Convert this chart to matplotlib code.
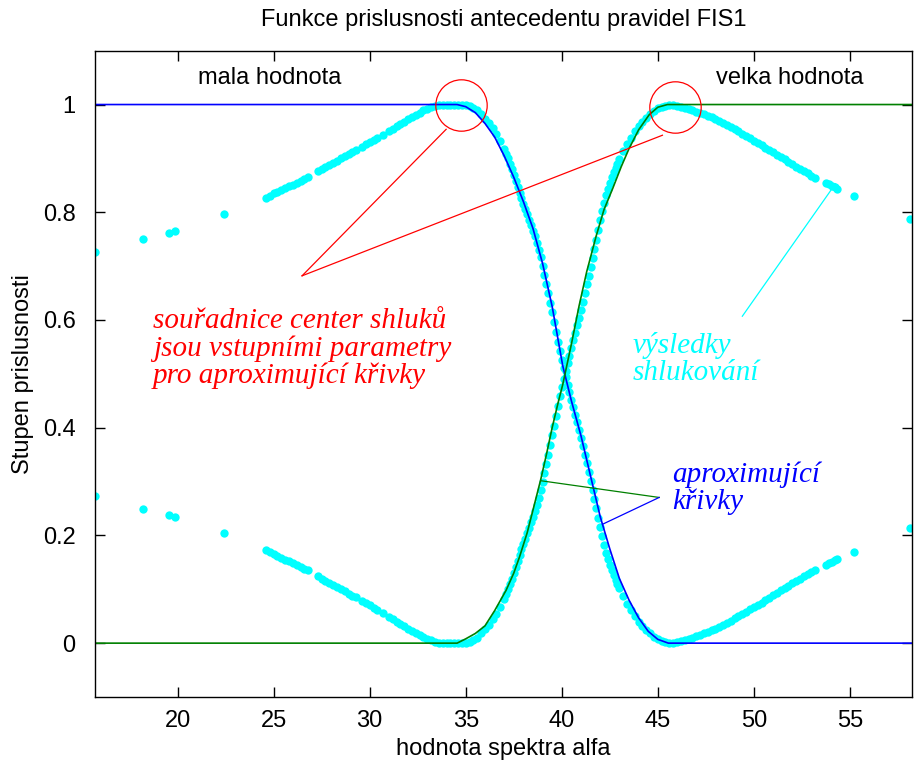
import matplotlib.pyplot as plt

plt.rcParams['font.family'] = ['Liberation Sans', 'DejaVu Sans']

# hodnoty spektra alfa (vstupni data FCM)
alfa = [
    15.70, 18.21, 19.55, 19.86, 22.41,
    24.6, 24.8, 25.0, 25.2, 25.4, 25.6, 25.8, 26.0, 26.2, 26.4, 26.6, 26.8,
    27.3, 27.5, 27.7, 27.9, 28.1, 28.3, 28.5, 28.7, 28.9, 29.1, 29.3,
    29.6, 29.8, 30.0, 30.2, 30.4, 30.7,
    31.0, 31.2, 31.4, 31.6, 31.8, 32.0, 32.2, 32.4, 32.6, 32.8,
    33.0, 33.2, 33.4, 33.6, 33.8, 34.0, 34.2, 34.4, 34.6, 34.8,
    35.0, 35.2, 35.4, 35.6, 35.8, 36.0, 36.2, 36.4, 36.6, 36.8,
    37.0, 37.1, 37.2, 37.3, 37.4, 37.5, 37.6, 37.7, 37.8, 37.9,
    38.0, 38.1, 38.2, 38.3, 38.4, 38.5, 38.6, 38.7, 38.8, 38.9,
    39.0, 39.1, 39.2, 39.3, 39.4, 39.5, 39.6, 39.7, 39.8, 39.9,
    40.0, 40.1, 40.2, 40.3, 40.4, 40.5, 40.6, 40.7, 40.8, 40.9,
    41.0, 41.1, 41.2, 41.3, 41.4, 41.5, 41.6, 41.7, 41.8, 41.9,
    42.0, 42.1, 42.2, 42.3, 42.4, 42.5, 42.6, 42.7, 42.8, 42.9,
    43.0, 43.2, 43.4, 43.6, 43.8, 44.0, 44.2, 44.4, 44.6, 44.8,
    45.0, 45.2, 45.4, 45.6, 45.8,
    46.0, 46.2, 46.4, 46.6, 46.8, 47.0, 47.2, 47.4, 47.6, 47.8,
    48.0, 48.2, 48.4, 48.6, 48.8, 49.0, 49.2, 49.4, 49.6, 49.8,
    50.0, 50.2, 50.4, 50.6, 50.8, 51.0, 51.2, 51.4, 51.6, 51.8,
    52.0, 52.2, 52.4, 52.6, 52.8, 53.0, 53.2,
    53.75, 53.9, 54.05, 54.2, 54.35, 55.2, 58.15,
]

# stupen prislusnosti ke shluku "mala hodnota"
u_mala = [
    0.726, 0.751, 0.762, 0.765, 0.796,
    0.827, 0.831, 0.835, 0.838, 0.842, 0.845, 0.848, 0.851, 0.855, 0.858, 0.862, 0.865,
    0.876, 0.880, 0.884, 0.888, 0.892, 0.896, 0.900, 0.904, 0.908, 0.912, 0.915,
    0.922, 0.926, 0.930, 0.934, 0.938, 0.944,
    0.951, 0.955, 0.960, 0.964, 0.968, 0.973, 0.977, 0.981, 0.985, 0.989,
    0.992, 0.995, 0.997, 0.999, 1.000, 1.000, 1.000, 1.000, 1.000, 1.000,
    1.000, 0.998, 0.994, 0.990, 0.982, 0.974, 0.966, 0.956, 0.945, 0.932,
    0.918, 0.909, 0.900, 0.890, 0.880, 0.869, 0.858, 0.847, 0.836, 0.826,
    0.816, 0.806, 0.796, 0.786, 0.776, 0.766, 0.755, 0.743, 0.730, 0.716,
    0.700, 0.684, 0.667, 0.650, 0.632, 0.614, 0.596, 0.578, 0.560, 0.542,
    0.525, 0.510, 0.495, 0.480, 0.466, 0.452, 0.438, 0.424, 0.410, 0.396,
    0.381, 0.366, 0.350, 0.334, 0.318, 0.301, 0.285, 0.268, 0.251, 0.233,
    0.215, 0.198, 0.182, 0.168, 0.156, 0.145, 0.135, 0.126, 0.118, 0.110,
    0.102, 0.087, 0.073, 0.062, 0.050, 0.040, 0.032, 0.025, 0.018, 0.012,
    0.007, 0.004, 0.002, 0.001, 0.000,
    0.002, 0.004, 0.006, 0.008, 0.010, 0.013, 0.015, 0.018, 0.021, 0.024,
    0.027, 0.030, 0.034, 0.038, 0.042, 0.046, 0.050, 0.054, 0.058, 0.063,
    0.067, 0.071, 0.075, 0.080, 0.084, 0.089, 0.094, 0.098, 0.102, 0.107,
    0.111, 0.116, 0.120, 0.124, 0.128, 0.132, 0.136,
    0.146, 0.148, 0.151, 0.154, 0.157, 0.170, 0.213,
]

# stupen prislusnosti ke shluku "velka hodnota"
u_velka = [
    0.274, 0.249, 0.238, 0.235, 0.204,
    0.173, 0.169, 0.165, 0.162, 0.158, 0.155, 0.152, 0.149, 0.145, 0.142, 0.138, 0.135,
    0.124, 0.120, 0.116, 0.112, 0.108, 0.104, 0.100, 0.096, 0.092, 0.088, 0.085,
    0.078, 0.074, 0.070, 0.066, 0.062, 0.056,
    0.049, 0.045, 0.040, 0.036, 0.032, 0.027, 0.023, 0.019, 0.015, 0.011,
    0.008, 0.005, 0.003, 0.001, 0.000, 0.000, 0.000, 0.000, 0.000, 0.000,
    0.000, 0.002, 0.006, 0.010, 0.018, 0.026, 0.034, 0.044, 0.055, 0.068,
    0.082, 0.091, 0.100, 0.110, 0.120, 0.131, 0.142, 0.153, 0.164, 0.174,
    0.184, 0.194, 0.204, 0.214, 0.224, 0.234, 0.245, 0.257, 0.270, 0.284,
    0.300, 0.316, 0.333, 0.350, 0.368, 0.386, 0.404, 0.422, 0.440, 0.458,
    0.475, 0.490, 0.505, 0.520, 0.534, 0.548, 0.562, 0.576, 0.590, 0.604,
    0.619, 0.634, 0.650, 0.666, 0.682, 0.699, 0.715, 0.732, 0.749, 0.767,
    0.785, 0.802, 0.818, 0.832, 0.844, 0.855, 0.865, 0.874, 0.882, 0.890,
    0.898, 0.913, 0.927, 0.938, 0.950, 0.960, 0.968, 0.975, 0.982, 0.988,
    0.993, 0.996, 0.998, 0.999, 1.000,
    0.998, 0.996, 0.994, 0.992, 0.990, 0.987, 0.985, 0.982, 0.979, 0.976,
    0.973, 0.970, 0.966, 0.962, 0.958, 0.954, 0.950, 0.946, 0.942, 0.937,
    0.933, 0.929, 0.925, 0.920, 0.916, 0.911, 0.906, 0.902, 0.898, 0.893,
    0.889, 0.884, 0.880, 0.876, 0.872, 0.868, 0.864,
    0.854, 0.852, 0.849, 0.846, 0.843, 0.830, 0.787,
]

# aproximujici krivky (funkce prislusnosti FIS1)
mf_mala_x = [15.7, 34.55, 35.0, 35.5, 36.0, 36.5, 37.0, 37.5, 38.0, 38.5,
             39.0, 39.5, 40.05, 40.5, 41.0, 41.5, 42.0, 42.5, 43.0, 43.5,
             44.0, 44.5, 45.0, 45.55, 58.25]
mf_mala_y = [1.0, 1.0, 0.996, 0.985, 0.965, 0.94, 0.905, 0.865, 0.82, 0.77,
             0.705, 0.625, 0.515, 0.45, 0.385, 0.31, 0.235, 0.175, 0.12, 0.08,
             0.047, 0.022, 0.007, 0.0, 0.0]
mf_velka_x = [15.7, 34.55, 35.0, 35.5, 36.0, 36.5, 37.1, 37.5, 37.8, 38.2,
              38.5, 38.9, 39.2, 39.5, 39.8, 40.05, 40.5, 40.9, 41.3, 41.8,
              42.2, 42.65, 43.1, 43.5, 44.0, 44.55, 45.0, 45.5, 58.25]
mf_velka_y = [0.0, 0.0, 0.008, 0.018, 0.032, 0.06, 0.098, 0.13, 0.16, 0.205,
              0.247, 0.303, 0.35, 0.40, 0.445, 0.48, 0.555, 0.626, 0.69, 0.757,
              0.805, 0.844, 0.885, 0.918, 0.953, 0.981, 0.995, 1.0, 1.0]

# centra shluku
centra_x = [34.75, 45.9]
centra_y = [1.0, 0.995]

x_ticks = [20, 25, 30, 35, 40, 45, 50, 55]
y_ticks = [0, 0.2, 0.4, 0.6, 0.8, 1]
y_ticklabels = ['0', '0.2', '0.4', '0.6', '0.8', '1']

fig = plt.figure(figsize=(9.16, 7.76), dpi=100)
ax = fig.add_axes([0.1037, 0.1018, 0.8923, 0.8329])

ax.plot(alfa, u_mala, 'o', color='cyan', ms=6, mec='none')
ax.plot(alfa, u_velka, 'o', color='cyan', ms=6, mec='none')
ax.plot(mf_mala_x, mf_mala_y, color='blue', lw=1.2)
ax.plot(mf_velka_x, mf_velka_y, color=(0, 0.5, 0), lw=1.2)
ax.plot(centra_x, centra_y, 'o', mfc='none', mec='red', ms=37, mew=0.9)

# odkazove cary k popiskum
ax.plot([26.48, 33.98], [0.682, 0.954], color='red', lw=0.9)
ax.plot([26.48, 45.24], [0.682, 0.943], color='red', lw=0.9)
ax.plot([49.40, 54.25], [0.607, 0.853], color='cyan', lw=0.9)
ax.plot([38.92, 45.07], [0.3015, 0.2705], color=(0, 0.5, 0), lw=0.9)
ax.plot([42.12, 45.07], [0.2207, 0.2705], color='blue', lw=0.9)

serif = dict(family=['Liberation Serif', 'DejaVu Serif'], style='italic', fontsize=21)
ax.text(18.72, 0.547, 'souřadnice center shluků\njsou vstupními parametry\npro aproximující křivky',
        color='red', ha='left', va='center', linespacing=1.05, **serif)
ax.text(43.67, 0.527, 'výsledky\nshlukování', color='cyan', ha='left', va='center',
        linespacing=1.05, **serif)
ax.text(45.74, 0.288, 'aproximující\nkřivky', color='blue', ha='left', va='center',
        linespacing=1.05, **serif)

ax.text(24.82, 1.049, 'mala hodnota', ha='center', va='center', fontsize=17)
ax.text(51.88, 1.049, 'velka hodnota', ha='center', va='center', fontsize=17)

ax.set_xlim(15.7, 58.25)
ax.set_ylim(-0.1, 1.1)
ax.set_xticks(x_ticks)
ax.set_yticks(y_ticks)
ax.set_yticklabels(y_ticklabels)
ax.tick_params(direction='in', top=True, right=True, length=7, width=1, labelsize=17)
ax.tick_params(axis='x', pad=9)
ax.tick_params(axis='y', pad=14)
for s in ax.spines.values():
    s.set_linewidth(1)

ax.set_title('Funkce prislusnosti antecedentu pravidel FIS1', fontsize=17, pad=18)
ax.set_xlabel('hodnota spektra alfa', fontsize=17, labelpad=5)
ax.set_ylabel('Stupen prislusnosti', fontsize=17, labelpad=6)

fig.savefig('out.png', dpi=100)
